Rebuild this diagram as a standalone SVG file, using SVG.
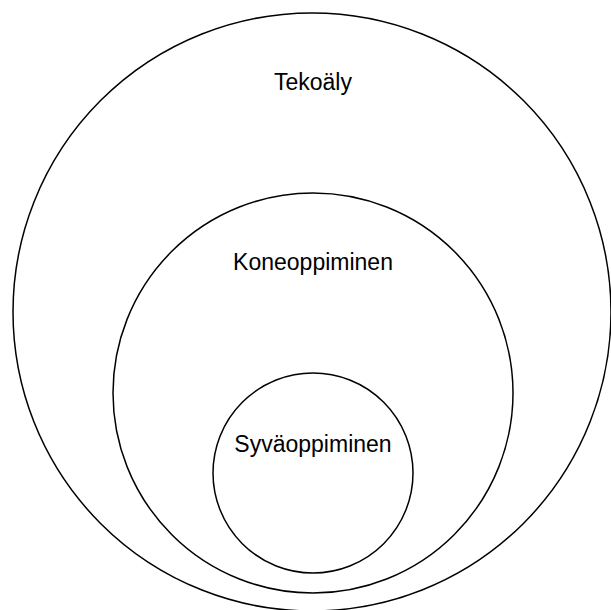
<svg xmlns="http://www.w3.org/2000/svg" width="611" height="610" viewBox="0 0 611 610">
<style>
.c{fill:none;stroke:#000;stroke-width:1.5}
.t{font-family:"Liberation Sans",Arial,sans-serif;font-size:23px;fill:#000;text-anchor:middle}
</style>
<rect width="611" height="610" fill="#fff"/>
<g id="tekoaly">
<circle class="c" cx="312" cy="312" r="299"/>
<text class="t" x="313" y="90">Tekoäly</text>
</g>
<g id="koneoppiminen">
<circle class="c" cx="313" cy="393" r="200"/>
<text class="t" x="313" y="270">Koneoppiminen</text>
</g>
<g id="syvaoppiminen">
<circle class="c" cx="313" cy="473" r="100"/>
<text class="t" x="313" y="452">Syväoppiminen</text>
</g>
<g id="connectors"/>
</svg>
